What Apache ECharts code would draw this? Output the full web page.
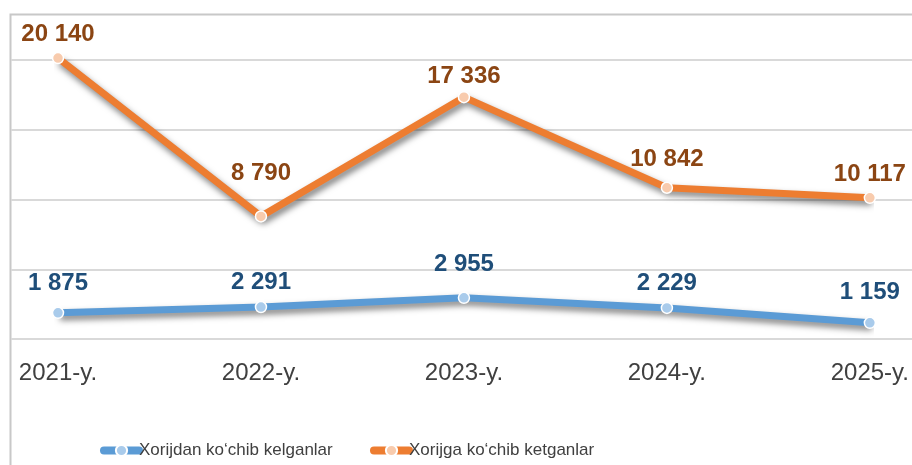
<!DOCTYPE html>
<html>
<head>
<meta charset="utf-8">
<script src="https://cdn.jsdelivr.net/npm/echarts@6/dist/echarts.min.js"></script>
<style>html,body{margin:0;padding:0;background:#fff;}#c{width:912px;height:465px;}</style>
</head>
<body>
<div id="c"></div>
<script>
var categories = ['2021-y.', '2022-y.', '2023-y.', '2024-y.', '2025-y.'];
var seriesNames = ['Xorijdan ko\u2018chib kelganlar', 'Xorijga ko\u2018chib ketganlar'];
var arrivals = [1875, 2291, 2955, 2229, 1159];
var departures = [20140, 8790, 17336, 10842, 10117];
var yTicks = [0, 5000, 10000, 15000, 20000];

// label gaps above points (styling, kept separate from data)
var gapArr = [11, 6, 15, 6, 12];
var gapDep = [5, 25, 3, 10, 5];

function fmt(v) { return String(v).replace(/\B(?=(\d{3})+(?!\d))/g, ' '); }
function items(vals, gaps) {
  return vals.map(function (v, i) { return { value: v, label: { distance: gaps[i] } }; });
}

var chart = echarts.init(document.getElementById('c'), null, { renderer: 'canvas' });
var yMax = yTicks[yTicks.length - 1];
var yInt = yTicks[1] - yTicks[0];
var shadow = { shadowColor: 'rgba(0,0,0,0.5)', shadowBlur: 6, shadowOffsetX: 2, shadowOffsetY: 4 };
var legendBase = {
  top: 437, itemWidth: 35, itemHeight: 14,
  lineStyle: { width: 8, cap: 'round' },
  textStyle: { fontSize: 17, color: '#404040', fontFamily: 'Liberation Sans, Arial, sans-serif', padding: [0, 0, 0, -5] }
};

chart.setOption({
  animation: false,
  backgroundColor: '#fff',
  graphic: [{
    type: 'rect', silent: true, z: -10,
    shape: { x: 10.5, y: 14.5, width: 1000, height: 600 },
    style: { fill: 'none', stroke: '#c8c8c8', lineWidth: 2 }
  }],
  grid: [
    { left: 58, right: 38, top: 60, bottom: 126 },
    { left: 11, right: 0, top: 60, bottom: 126 }
  ],
  xAxis: [
    {
      gridIndex: 0, type: 'category', data: categories, boundaryGap: false,
      axisLine: { show: false }, axisTick: { show: false },
      axisLabel: { fontSize: 24, color: '#404040', margin: 22, fontFamily: 'Liberation Sans, Arial, sans-serif' }
    },
    { gridIndex: 1, type: 'value', min: 0, max: 1, show: false }
  ],
  yAxis: [
    { gridIndex: 0, type: 'value', min: 0, max: yMax, interval: yInt, show: false },
    {
      gridIndex: 1, type: 'value', min: 0, max: yMax, interval: yInt,
      axisLine: { show: false }, axisTick: { show: false }, axisLabel: { show: false },
      splitLine: { show: true, lineStyle: { color: '#d9d9d9', width: 2 } }
    }
  ],
  legend: [
    Object.assign({ left: 95, data: [seriesNames[0]] }, legendBase),
    Object.assign({ left: 365, data: [seriesNames[1]] }, legendBase)
  ],
  series: [
    {
      name: seriesNames[0], type: 'line', xAxisIndex: 0, yAxisIndex: 0,
      data: items(arrivals, gapArr), clip: false,
      symbol: 'circle', symbolSize: 11,
      lineStyle: Object.assign({ color: '#5B9BD5', width: 7 }, shadow),
      itemStyle: { color: '#A9CBEB', borderColor: '#ffffff', borderWidth: 1.5 },
      label: {
        show: true, position: 'top', fontSize: 24, fontWeight: 'bold', color: '#1F4E79',
        fontFamily: 'Liberation Sans, Arial, sans-serif', formatter: function (p) { return fmt(p.value); }
      },
      z: 3
    },
    {
      name: seriesNames[1], type: 'line', xAxisIndex: 0, yAxisIndex: 0,
      data: items(departures, gapDep), clip: false,
      symbol: 'circle', symbolSize: 11,
      lineStyle: Object.assign({ color: '#ED7D31', width: 7 }, shadow),
      itemStyle: { color: '#F8CBAD', borderColor: '#ffffff', borderWidth: 1.5 },
      label: {
        show: true, position: 'top', fontSize: 24, fontWeight: 'bold', color: '#8B4513',
        fontFamily: 'Liberation Sans, Arial, sans-serif', formatter: function (p) { return fmt(p.value); }
      },
      z: 3
    }
  ]
});
</script>
</body>
</html>
